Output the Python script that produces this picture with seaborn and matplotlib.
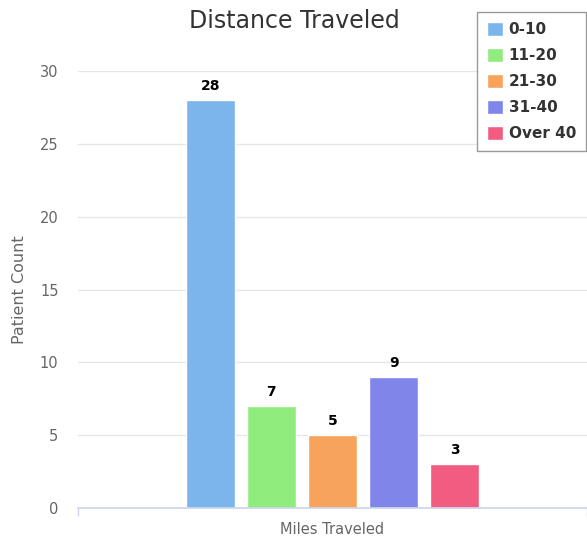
import matplotlib
matplotlib.use("Agg")
import matplotlib.pyplot as plt
import pandas as pd
import seaborn as sns

# data
groups = ["0-10", "11-20", "21-30", "31-40", "Over 40"]
counts = [28, 7, 5, 9, 3]
category = "Miles Traveled"
colors = ["#7cb5ec", "#90ed7d", "#f7a35c", "#8085e9", "#f15c80"]

df = pd.DataFrame({"category": [category] * len(groups), "group": groups, "count": counts})

sns.set_theme(style="white")
plt.rcParams["font.family"] = ["DejaVu Sans"]

fig = plt.figure(figsize=(5.87, 5.37), dpi=100)
ax = fig.add_axes([78 / 587, 1 - 508 / 537, 1 - 78 / 587, (508 - 71) / 537])

sns.barplot(
    data=df,
    x="category",
    y="count",
    hue="group",
    hue_order=groups,
    palette=colors,
    width=0.6,
    gap=0.2,
    saturation=1,
    ax=ax,
    legend=True,
)

# value labels above bars
for container in ax.containers:
    ax.bar_label(container, padding=5, fontsize=10, fontweight="bold", color="black")

ax.set_xlim(-0.5, 0.5)
ax.set_ylim(0, 30)
ax.set_yticks([0, 5, 10, 15, 20, 25, 30])
ax.yaxis.grid(True, color="#e6e6e6", linewidth=1)
ax.set_axisbelow(True)
for side in ["top", "right", "left"]:
    ax.spines[side].set_visible(False)
ax.spines["bottom"].set_color("#ccd6eb")

ax.tick_params(axis="y", length=0, labelsize=10.5, labelcolor="#666666", pad=14)
ax.tick_params(axis="x", which="major", length=0, labelsize=10.5, labelcolor="#666666", pad=10)
ax.set_xticks([-0.5, 0.5], minor=True)
ax.tick_params(axis="x", which="minor", bottom=True, length=6, color="#ccd6eb", width=1)

ax.set_xlabel("")
ax.set_ylabel("Patient Count", fontsize=11.5, color="#666666", labelpad=9)

fig.text(0.502, 1 - 21 / 537, "Distance Traveled", ha="center", va="center",
         fontsize=17, color="#333333")

ax.legend(
    loc="upper right",
    bbox_to_anchor=(586 / 587, 1 - 12 / 537),
    bbox_transform=fig.transFigure,
    prop={"weight": "bold", "size": 11},
    labelcolor="#333333",
    frameon=True,
    fancybox=False,
    edgecolor="#999999",
    framealpha=1,
    handlelength=1.05,
    handleheight=1.05,
    handletextpad=0.35,
    labelspacing=0.7,
    borderpad=0.65,
    borderaxespad=0,
)

fig.savefig("out.png", dpi=100)
